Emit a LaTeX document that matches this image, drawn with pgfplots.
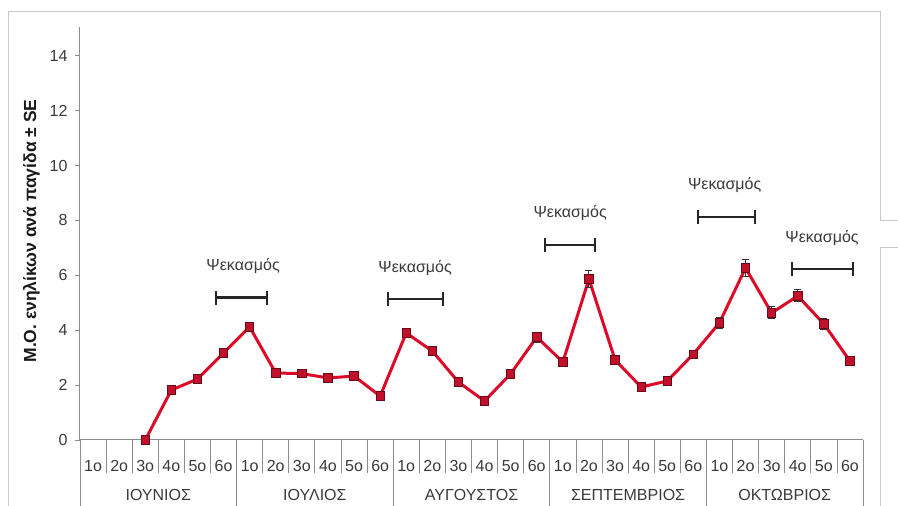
\documentclass[border=0pt]{standalone}
\usepackage{pgfplots}
\pgfplotsset{compat=1.18}
\usepackage{fontspec}
\setmainfont{Liberation Sans}
\usetikzlibrary{arrows.meta}
\definecolor{linered}{HTML}{DC0A28}
\definecolor{markred}{HTML}{C0102A}
\definecolor{markedge}{HTML}{6A0818}
\definecolor{txt}{HTML}{3A3A3A}
\definecolor{axgray}{HTML}{8C8C8C}
\definecolor{framegray}{HTML}{C8C8C8}
\pgfplotstableread{
x y e
2 0 0
3 1.82 0.08
4 2.22 0.08
5 3.17 0.15
6 4.12 0.10
7 2.44 0.08
8 2.42 0.08
9 2.26 0.06
10 2.33 0.06
11 1.60 0.06
12 3.90 0.15
13 3.24 0.08
14 2.11 0.06
15 1.42 0.06
16 2.41 0.08
17 3.75 0.18
18 2.84 0.15
19 5.87 0.30
20 2.92 0.08
21 1.93 0.06
22 2.15 0.08
23 3.13 0.10
24 4.27 0.20
25 6.27 0.30
26 4.63 0.22
27 5.25 0.22
28 4.23 0.20
29 2.88 0.08
}\datatable
\begin{document}
\begin{tikzpicture}[font=\fontsize{16}{19}\selectfont]
\path[use as bounding box] (0pt,0pt) rectangle (898pt,506pt);
\draw[framegray, line width=1pt] (8pt,0pt) -- (8pt,494pt) -- (880pt,494pt) -- (880pt,285pt) -- (898pt,285pt);
\draw[framegray, line width=1pt] (898pt,258pt) -- (880pt,258pt) -- (880pt,0pt);
\begin{axis}[at={(80pt,66pt)}, anchor=south west, scale only axis, width=783pt, height=413pt,
  xmin=-0.5, xmax=29.5, ymin=0, ymax=15.05,
  axis x line=bottom, axis y line=left,
  axis line style={-, axgray, line width=1pt},
  ytick={0,2,...,14},
  xtick={0,...,29},
  xticklabels={1ο,2ο,3ο,4ο,5ο,6ο,1ο,2ο,3ο,4ο,5ο,6ο,1ο,2ο,3ο,4ο,5ο,6ο,1ο,2ο,3ο,4ο,5ο,6ο,1ο,2ο,3ο,4ο,5ο,6ο},
  x tick style={draw=none},
  y tick style={axgray, line width=0.8pt},
  major tick length=5pt, tick align=outside,
  yticklabel style={font=\fontsize{16}{19}\selectfont, text=txt, xshift=-4pt},
  xticklabel style={font=\fontsize{16}{19}\selectfont, text=txt, anchor=center, yshift=-21pt},
  /pgf/number format/assume math mode=true,
  ylabel={Μ.Ο. ενηλίκων ανά παγίδα ± SE},
  ylabel style={font=\bfseries\fontsize{17.5}{20}\selectfont, text=black!90, at={(axis description cs:-0.062,0.506)}, anchor=center},
  clip=false,
]
\pgfplotsinvokeforeach{0.5,1.5,2.5,3.5,4.5,6.5,7.5,8.5,9.5,10.5,12.5,13.5,14.5,15.5,16.5,18.5,19.5,20.5,21.5,22.5,24.5,25.5,26.5,27.5,28.5}{
  \draw[axgray, line width=0.8pt] (axis cs:#1,0) -- (axis cs:#1,-1.2);
}
\pgfplotsinvokeforeach{-0.5,5.5,11.5,17.5,23.5,29.5}{
  \draw[axgray, line width=0.8pt] (axis cs:#1,0) -- (axis cs:#1,-2.41);
}
\node[text=txt] at (axis cs:2.5,-1.99) {ΙΟΥΝΙΟΣ};
\node[text=txt] at (axis cs:8.5,-1.99) {ΙΟΥΛΙΟΣ};
\node[text=txt] at (axis cs:14.5,-1.99) {ΑΥΓΟΥΣΤΟΣ};
\node[text=txt] at (axis cs:20.5,-1.99) {ΣΕΠΤΕΜΒΡΙΟΣ};
\node[text=txt] at (axis cs:26.5,-1.99) {ΟΚΤΩΒΡΙΟΣ};

\addplot[linered, line width=3pt, mark=square*, mark size=4.2pt,
  mark options={fill=markred, draw=markedge, line width=0.8pt},
  error bars/.cd, y dir=both, y explicit,
  error bar style={black!80, line width=1pt},
  error mark options={rotate=90, mark size=3.5pt, black!80, line width=1pt}]
  table[x=x, y=y, y error=e] {\datatable};

\draw[black!85, line width=2.2pt, {Bar[width=14pt]}-{Bar[width=14pt]}] (axis cs:4.67,5.19) -- (axis cs:6.70,5.19);
\draw[black!85, line width=2.2pt, {Bar[width=14pt]}-{Bar[width=14pt]}] (axis cs:11.26,5.14) -- (axis cs:13.45,5.14);
\draw[black!85, line width=2.2pt, {Bar[width=14pt]}-{Bar[width=14pt]}] (axis cs:17.28,7.11) -- (axis cs:19.27,7.11);
\draw[black!85, line width=2.2pt, {Bar[width=14pt]}-{Bar[width=14pt]}] (axis cs:23.14,8.13) -- (axis cs:25.40,8.13);
\draw[black!85, line width=2.2pt, {Bar[width=14pt]}-{Bar[width=14pt]}] (axis cs:26.74,6.23) -- (axis cs:29.16,6.23);
\node[text=txt] at (axis cs:5.75,6.34) {Ψεκασμός};
\node[text=txt] at (axis cs:12.34,6.27) {Ψεκασμός};
\node[text=txt] at (axis cs:18.28,8.28) {Ψεκασμός};
\node[text=txt] at (axis cs:24.2,9.30) {Ψεκασμός};
\node[text=txt] at (axis cs:27.93,7.36) {Ψεκασμός};
\end{axis}
\end{tikzpicture}
\end{document}
